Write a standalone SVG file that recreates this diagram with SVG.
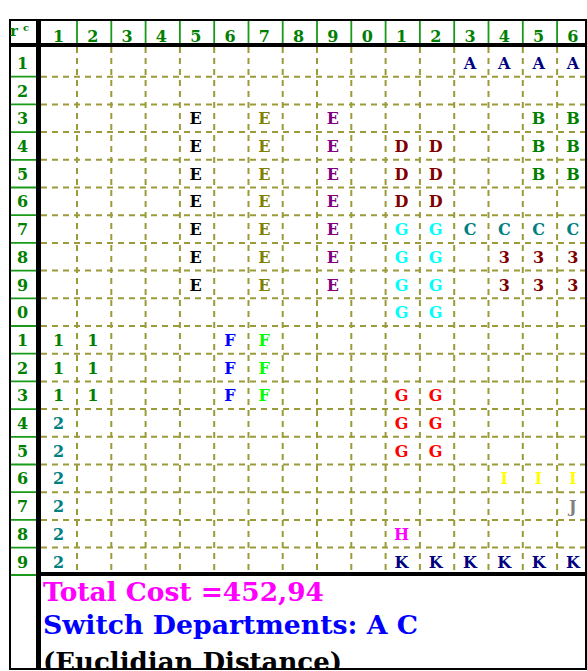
<svg xmlns="http://www.w3.org/2000/svg" width="587" height="671" viewBox="0 0 587 671">
<style>
.c{font-family:"DejaVu Serif","Liberation Serif",serif;font-weight:bold;font-size:16px;text-anchor:middle}
.h{font-family:"DejaVu Serif","Liberation Serif",serif;font-weight:bold;font-size:16px;text-anchor:middle;fill:#008000}
.f{font-family:"DejaVu Serif","Liberation Serif",serif;font-weight:bold;font-size:26px}
.grid{fill:none;stroke:#9b9b3a;stroke-width:2;stroke-dasharray:6 5}
.gl{fill:none;stroke:#1a9a1a;stroke-width:1.8}
</style>
<defs>
<clipPath id="foot"><rect x="41" y="577" width="545" height="91"/></clipPath>
</defs>
<rect x="0" y="0" width="587" height="671" fill="#fff"/>
<g id="grid">
<path class="grid" d="M41 76.7H586M41 104.4H586M41 132.1H586M41 159.8H586M41 187.5H586M41 215.2H586M41 242.9H586M41 270.6H586M41 298.3H586M41 326H586M41 353.7H586M41 381.4H586M41 409.1H586M41 436.8H586M41 464.5H586M41 492.2H586M41 519.9H586M41 547.6H586"/>
<path class="grid" d="M77 47V572M111.3 47V572M145.6 47V572M179.9 47V572M214.2 47V572M248.5 47V572M282.7 47V572M317 47V572M351.3 47V572M385.6 47V572M419.9 47V572M454.2 47V572M488.5 47V572M522.8 47V572M557.1 47V572"/>
</g>
<g id="header-lines">
<path class="gl" d="M77 21V43M111.3 21V43M145.6 21V43M179.9 21V43M214.2 21V43M248.5 21V43M282.7 21V43M317 21V43M351.3 21V43M385.6 21V43M419.9 21V43M454.2 21V43M488.5 21V43M522.8 21V43M557.1 21V43"/>
<path class="gl" d="M11 76.7H36M11 104.4H36M11 132.1H36M11 159.8H36M11 187.5H36M11 215.2H36M11 242.9H36M11 270.6H36M11 298.3H36M11 326H36M11 353.7H36M11 381.4H36M11 409.1H36M11 436.8H36M11 464.5H36M11 492.2H36M11 519.9H36M11 547.6H36M11 575H36"/>
</g>
<g id="frame" fill="#000">
<rect x="10" y="43" width="576" height="4"/>
<rect x="36" y="20" width="5" height="650"/>
<rect x="41" y="572" width="545" height="4"/>
<rect x="10" y="20" width="576" height="649" fill="none" stroke="#000" stroke-width="2"/>
</g>
<g id="corner" font-family="DejaVu Serif, Liberation Serif, serif" font-weight="bold" fill="#008000">
<text x="14" y="36" font-size="15" text-anchor="middle">r</text>
<text x="26" y="31" font-size="10" text-anchor="middle">c</text>
</g>
<g id="col-headers">
<text class="h" x="58.6" y="41.5">1</text>
<text class="h" x="92.8" y="41.5">2</text>
<text class="h" x="127.1" y="41.5">3</text>
<text class="h" x="161.4" y="41.5">4</text>
<text class="h" x="195.7" y="41.5">5</text>
<text class="h" x="230" y="41.5">6</text>
<text class="h" x="264.3" y="41.5">7</text>
<text class="h" x="298.6" y="41.5">8</text>
<text class="h" x="332.9" y="41.5">9</text>
<text class="h" x="367.2" y="41.5">0</text>
<text class="h" x="401.5" y="41.5">1</text>
<text class="h" x="435.7" y="41.5">2</text>
<text class="h" x="470" y="41.5">3</text>
<text class="h" x="504.3" y="41.5">4</text>
<text class="h" x="538.6" y="41.5">5</text>
<text class="h" x="572.9" y="41.5">6</text>
</g>
<g id="row-headers">
<text class="h" x="22.5" y="68.9">1</text>
<text class="h" x="22.5" y="96.6">2</text>
<text class="h" x="22.5" y="124.3">3</text>
<text class="h" x="22.5" y="152">4</text>
<text class="h" x="22.5" y="179.7">5</text>
<text class="h" x="22.5" y="207.4">6</text>
<text class="h" x="22.5" y="235.1">7</text>
<text class="h" x="22.5" y="262.8">8</text>
<text class="h" x="22.5" y="290.5">9</text>
<text class="h" x="22.5" y="318.2">0</text>
<text class="h" x="22.5" y="345.9">1</text>
<text class="h" x="22.5" y="373.6">2</text>
<text class="h" x="22.5" y="401.3">3</text>
<text class="h" x="22.5" y="429">4</text>
<text class="h" x="22.5" y="456.7">5</text>
<text class="h" x="22.5" y="484.4">6</text>
<text class="h" x="22.5" y="512.1">7</text>
<text class="h" x="22.5" y="539.8">8</text>
<text class="h" x="22.5" y="567.5">9</text>
</g>
<g id="dept-A" fill="#000080">
<text class="c" x="470" y="68.9">A</text><text class="c" x="504.3" y="68.9">A</text><text class="c" x="538.6" y="68.9">A</text><text class="c" x="572.9" y="68.9">A</text>
</g>
<g id="dept-E" fill="#000">
<text class="c" x="195.7" y="124.3">E</text><text class="c" x="195.7" y="152">E</text><text class="c" x="195.7" y="179.7">E</text><text class="c" x="195.7" y="207.4">E</text><text class="c" x="195.7" y="235.1">E</text><text class="c" x="195.7" y="262.8">E</text><text class="c" x="195.7" y="290.5">E</text>
</g>
<g id="dept-E2" fill="#808000">
<text class="c" x="264.3" y="124.3">E</text><text class="c" x="264.3" y="152">E</text><text class="c" x="264.3" y="179.7">E</text><text class="c" x="264.3" y="207.4">E</text><text class="c" x="264.3" y="235.1">E</text><text class="c" x="264.3" y="262.8">E</text><text class="c" x="264.3" y="290.5">E</text>
</g>
<g id="dept-E3" fill="#800080">
<text class="c" x="332.9" y="124.3">E</text><text class="c" x="332.9" y="152">E</text><text class="c" x="332.9" y="179.7">E</text><text class="c" x="332.9" y="207.4">E</text><text class="c" x="332.9" y="235.1">E</text><text class="c" x="332.9" y="262.8">E</text><text class="c" x="332.9" y="290.5">E</text>
</g>
<g id="dept-B" fill="#008000">
<text class="c" x="538.6" y="124.3">B</text><text class="c" x="572.9" y="124.3">B</text>
<text class="c" x="538.6" y="152">B</text><text class="c" x="572.9" y="152">B</text>
<text class="c" x="538.6" y="179.7">B</text><text class="c" x="572.9" y="179.7">B</text>
</g>
<g id="dept-D" fill="#800000">
<text class="c" x="401.5" y="152">D</text><text class="c" x="435.7" y="152">D</text>
<text class="c" x="401.5" y="179.7">D</text><text class="c" x="435.7" y="179.7">D</text>
<text class="c" x="401.5" y="207.4">D</text><text class="c" x="435.7" y="207.4">D</text>
</g>
<g id="dept-G1" fill="#00ffff">
<text class="c" x="401.5" y="235.1">G</text><text class="c" x="435.7" y="235.1">G</text>
<text class="c" x="401.5" y="262.8">G</text><text class="c" x="435.7" y="262.8">G</text>
<text class="c" x="401.5" y="290.5">G</text><text class="c" x="435.7" y="290.5">G</text>
<text class="c" x="401.5" y="318.2">G</text><text class="c" x="435.7" y="318.2">G</text>
</g>
<g id="dept-C" fill="#008080">
<text class="c" x="470" y="235.1">C</text><text class="c" x="504.3" y="235.1">C</text><text class="c" x="538.6" y="235.1">C</text><text class="c" x="572.9" y="235.1">C</text>
</g>
<g id="dept-3" fill="#800000">
<text class="c" x="504.3" y="262.8">3</text><text class="c" x="538.6" y="262.8">3</text><text class="c" x="572.9" y="262.8">3</text>
<text class="c" x="504.3" y="290.5">3</text><text class="c" x="538.6" y="290.5">3</text><text class="c" x="572.9" y="290.5">3</text>
</g>
<g id="dept-1" fill="#008000">
<text class="c" x="58.6" y="345.9">1</text><text class="c" x="92.8" y="345.9">1</text>
<text class="c" x="58.6" y="373.6">1</text><text class="c" x="92.8" y="373.6">1</text>
<text class="c" x="58.6" y="401.3">1</text><text class="c" x="92.8" y="401.3">1</text>
</g>
<g id="dept-F1" fill="#0000ff">
<text class="c" x="230" y="345.9">F</text><text class="c" x="230" y="373.6">F</text><text class="c" x="230" y="401.3">F</text>
</g>
<g id="dept-F2" fill="#00ff00">
<text class="c" x="264.3" y="345.9">F</text><text class="c" x="264.3" y="373.6">F</text><text class="c" x="264.3" y="401.3">F</text>
</g>
<g id="dept-G2" fill="#ff0000">
<text class="c" x="401.5" y="401.3">G</text><text class="c" x="435.7" y="401.3">G</text>
<text class="c" x="401.5" y="429">G</text><text class="c" x="435.7" y="429">G</text>
<text class="c" x="401.5" y="456.7">G</text><text class="c" x="435.7" y="456.7">G</text>
</g>
<g id="dept-2" fill="#008080">
<text class="c" x="58.6" y="429">2</text><text class="c" x="58.6" y="456.7">2</text><text class="c" x="58.6" y="484.4">2</text><text class="c" x="58.6" y="512.1">2</text><text class="c" x="58.6" y="539.8">2</text><text class="c" x="58.6" y="567.5">2</text>
</g>
<g id="dept-I" fill="#ffff00">
<text class="c" x="504.3" y="484.4">I</text><text class="c" x="538.6" y="484.4">I</text><text class="c" x="572.9" y="484.4">I</text>
</g>
<g id="dept-J" fill="#808080">
<text class="c" x="572.9" y="512.1">J</text>
</g>
<g id="dept-H" fill="#ff00ff">
<text class="c" x="401.5" y="539.8">H</text>
</g>
<g id="dept-K" fill="#000080">
<text class="c" x="401.5" y="567.5">K</text><text class="c" x="435.7" y="567.5">K</text><text class="c" x="470" y="567.5">K</text><text class="c" x="504.3" y="567.5">K</text><text class="c" x="538.6" y="567.5">K</text><text class="c" x="572.9" y="567.5">K</text>
</g>
<g id="footer" clip-path="url(#foot)">
<text class="f" x="43" y="600.5" fill="#ff00ff" textLength="281" lengthAdjust="spacingAndGlyphs">Total Cost =452,94</text>
<text class="f" x="43" y="633.5" fill="#0000ff" textLength="375" lengthAdjust="spacingAndGlyphs">Switch Departments: A C</text>
<text class="f" x="43" y="671" fill="#000" textLength="299" lengthAdjust="spacingAndGlyphs">(Euclidian Distance)</text>
</g>
</svg>
